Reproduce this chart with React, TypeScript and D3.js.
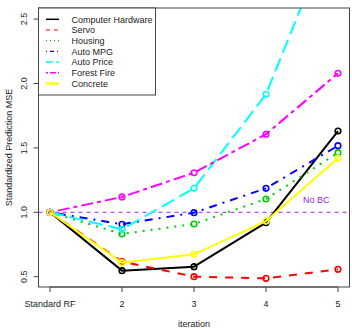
import React, { useEffect, useRef } from 'react';
import * as d3 from 'd3';

// iterations on the x axis (1 = Standard RF)
const iterations = [1, 2, 3, 4, 5];
const iterationLabels = ['Standard RF', '2', '3', '4', '5'];
const yTicks = [0.5, 1.0, 1.5, 2.0, 2.5];

const computerHardware = [1.0, 0.547, 0.578, 0.92, 1.631];
const servo = [1.0, 0.617, 0.5, 0.487, 0.557];
const housing = [1.0, 0.832, 0.909, 1.103, 1.463];
const autoMpg = [1.0, 0.907, 0.997, 1.186, 1.517];
const autoPrice = [1.0, 0.868, 1.186, 1.916, 3.3];
const forestFire = [1.0, 1.119, 1.307, 1.606, 2.079];
const concrete = [1.0, 0.609, 0.674, 0.932, 1.419];

const seriesNames = ['Computer Hardware', 'Servo', 'Housing', 'Auto MPG', 'Auto Price', 'Forest Fire', 'Concrete'];
const baseline = 1.0;

type Series = { name: string; values: number[]; color: string; dash: string | null; legendWidth: number };

const App = () => {
    const svgRef = useRef<SVGSVGElement>(null);

    useEffect(() => {
        const svg = d3.select(svgRef.current);
        svg.selectAll('*').remove();

        const width = 352;
        const height = 329;
        const font = '"Liberation Sans", Arial, Helvetica, sans-serif';

        // plot region (R style: limits padded by 4%)
        const left = 38.5, right = 349.5, top = 8, bottom = 287;

        const x = d3.scaleLinear().domain([0.84, 5.16]).range([left, right]);
        const y = d3.scaleLinear().domain([0.42, 2.586]).range([bottom, top]);

        svg.attr('width', width).attr('height', height);
        svg.append('rect').attr('width', width).attr('height', height).attr('fill', 'white');

        const series: Series[] = [
            { name: seriesNames[0], values: computerHardware, color: 'black', dash: null, legendWidth: 1.5 },
            { name: seriesNames[1], values: servo, color: '#ff0000', dash: '8,8', legendWidth: 1.2 },
            { name: seriesNames[2], values: housing, color: '#00cd00', dash: '2,6', legendWidth: 1.2 },
            { name: seriesNames[3], values: autoMpg, color: '#0000ff', dash: '2,6,8,6', legendWidth: 1.2 },
            { name: seriesNames[4], values: autoPrice, color: '#00ffff', dash: '14,6', legendWidth: 1.5 },
            { name: seriesNames[5], values: forestFire, color: '#ff00ff', dash: '4,4,12,4', legendWidth: 1.5 },
            { name: seriesNames[6], values: concrete, color: '#ffff00', dash: null, legendWidth: 2.5 },
        ];

        svg.append('clipPath').attr('id', 'plot-clip')
            .append('rect')
            .attr('x', left).attr('y', top)
            .attr('width', right - left).attr('height', bottom - top);

        const plot = svg.append('g').attr('clip-path', 'url(#plot-clip)');

        // reference line for no bias correction
        plot.append('line')
            .attr('x1', left).attr('x2', right)
            .attr('y1', y(baseline)).attr('y2', y(baseline))
            .attr('stroke', '#a020f0')
            .attr('stroke-dasharray', '4,4');

        const line = d3.line<number>()
            .x((_, i) => x(iterations[i]))
            .y(d => y(d));

        series.forEach(s => {
            plot.append('path')
                .datum(s.values)
                .attr('d', line)
                .attr('fill', 'none')
                .attr('stroke', s.color)
                .attr('stroke-width', 2)
                .attr('stroke-dasharray', s.dash)
                .attr('stroke-linejoin', 'round');

            plot.selectAll(null)
                .data(s.values)
                .enter()
                .append('circle')
                .attr('cx', (_, i) => x(iterations[i]))
                .attr('cy', d => y(d))
                .attr('r', 2.8)
                .attr('fill', 'none')
                .attr('stroke', s.color)
                .attr('stroke-width', 1.6);
        });

        plot.append('text')
            .attr('x', 303)
            .attr('y', 202.5)
            .text('No BC')
            .style('font-family', font)
            .style('font-size', '9px')
            .style('fill', '#a020f0');

        // box
        svg.append('rect')
            .attr('x', left).attr('y', top)
            .attr('width', right - left).attr('height', bottom - top)
            .attr('fill', 'none')
            .attr('stroke', '#444')
            .attr('stroke-width', 1);

        // x axis
        const xAxis = svg.append('g');
        xAxis.append('line')
            .attr('x1', x(iterations[0])).attr('x2', x(iterations[iterations.length - 1]))
            .attr('y1', bottom).attr('y2', bottom)
            .attr('stroke', '#444');
        iterations.forEach((it, i) => {
            xAxis.append('line')
                .attr('x1', x(it)).attr('x2', x(it))
                .attr('y1', bottom).attr('y2', bottom + 5)
                .attr('stroke', '#444');
            xAxis.append('text')
                .attr('x', x(it))
                .attr('y', bottom + 20)
                .attr('text-anchor', 'middle')
                .text(iterationLabels[i])
                .style('font-family', font)
                .style('font-size', '9px')
                .style('fill', '#222');
        });

        // y axis
        const yAxis = svg.append('g');
        yTicks.forEach(t => {
            yAxis.append('line')
                .attr('x1', left - 5).attr('x2', left)
                .attr('y1', y(t)).attr('y2', y(t))
                .attr('stroke', '#444');
            yAxis.append('text')
                .attr('transform', `translate(${left - 12},${y(t)}) rotate(-90)`)
                .attr('text-anchor', 'middle')
                .text(t.toFixed(1))
                .style('font-family', font)
                .style('font-size', '9px')
                .style('fill', '#222');
        });

        // axis titles
        svg.append('text')
            .attr('x', (left + right) / 2)
            .attr('y', 327)
            .attr('text-anchor', 'middle')
            .text('iteration')
            .style('font-family', font)
            .style('font-size', '9px')
            .style('fill', '#222');

        svg.append('text')
            .attr('transform', `translate(11.5,${(top + bottom) / 2}) rotate(-90)`)
            .attr('text-anchor', 'middle')
            .text('Standardized Prediction MSE')
            .style('font-family', font)
            .style('font-size', '9px')
            .style('fill', '#222');

        // legend
        const legend = svg.append('g');
        legend.append('rect')
            .attr('x', left).attr('y', top)
            .attr('width', 117).attr('height', 87)
            .attr('fill', 'white')
            .attr('stroke', '#444');
        series.forEach((s, i) => {
            const ly = 19.3 + i * 10.7;
            legend.append('line')
                .attr('x1', 46).attr('x2', 59)
                .attr('y1', ly).attr('y2', ly)
                .attr('stroke', s.color)
                .attr('stroke-width', s.legendWidth)
                .attr('stroke-dasharray', s.dash ? s.dash.split(',').map(v => +v / 2).join(',') : null);
            legend.append('text')
                .attr('x', 71.5)
                .attr('y', ly + 3.3)
                .text(s.name)
                .style('font-family', font)
                .style('font-size', '9px')
                .style('fill', '#222');
        });
    }, []);

    return (
        <div style={{ position: 'absolute', left: 0, top: 0 }}>
            <svg ref={svgRef} style={{ display: 'block' }}></svg>
        </div>
    );
};

export default App;
